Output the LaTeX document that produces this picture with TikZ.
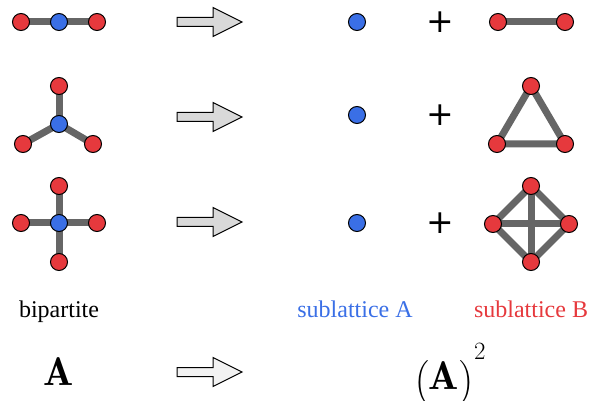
\documentclass[tikz,border=0pt]{standalone}
\usepackage{amsmath}
\usepackage{fontspec}
\newfontfamily\labelfont{Liberation Serif}
\newfontfamily\plusfont{DejaVu Sans}
\usetikzlibrary{backgrounds}
\definecolor{colA}{HTML}{3A6FE6}
\definecolor{colB}{HTML}{E6393D}
\definecolor{bondgray}{HTML}{666666}

\begin{document}
\begin{tikzpicture}[x=1pt, y=-1pt,
  sitea/.style={circle, draw=black, fill=colA, line width=1pt,
                inner sep=0pt, minimum size=17pt},
  siteb/.style={circle, draw=black, fill=colB, line width=1pt,
                inner sep=0pt, minimum size=17pt},
  bond/.style={line width=7pt, bondgray},
  bigarrow/.style={draw=black, line width=1pt, line join=miter},
  lbl/.style={font=\labelfont\fontsize{24}{26}\selectfont, inner sep=0pt,
              anchor=base},
  plus/.style={font=\plusfont\fontsize{33}{35}\selectfont, inner sep=0pt},
  big/.style={font=\fontsize{40}{44}\selectfont, inner sep=0pt, anchor=base}
]
  \useasboundingbox (0,0) rectangle (590,401);

  % left column: the bipartite graphs
  \node[siteb] (p1) at (21,22)  {};
  \node[sitea] (p0) at (59,22)  {};
  \node[siteb] (p2) at (97,22)  {};

  \node[sitea] (t0) at (59,124) {};
  \node[siteb] (t1) at (59,86)  {};
  \node[siteb] (t2) at (23,144) {};
  \node[siteb] (t3) at (93,144) {};

  \node[sitea] (s0) at (59,223) {};
  \node[siteb] (s1) at (59,186) {};
  \node[siteb] (s2) at (21,223) {};
  \node[siteb] (s3) at (97,223) {};
  \node[siteb] (s4) at (59,262) {};

  % middle: sublattice A sites and plus signs
  \node[sitea] (m1) at (357,22)  {};
  \node[sitea] (m2) at (357,115) {};
  \node[sitea] (m3) at (357,223) {};
  \node[plus] (q1) at (440,22)  {+};
  \node[plus] (q2) at (440,115) {+};
  \node[plus] (q3) at (440,223) {+};

  % right column: sublattice B graphs
  \node[siteb] (b1) at (498,22)  {};
  \node[siteb] (b2) at (565,22)  {};

  \node[siteb] (c1) at (531,86)  {};
  \node[siteb] (c2) at (497,144) {};
  \node[siteb] (c3) at (565,144) {};

  \node[siteb] (d1) at (531,186) {};
  \node[siteb] (d2) at (493,224) {};
  \node[siteb] (d3) at (569,224) {};
  \node[siteb] (d4) at (531,262) {};

  \begin{scope}[on background layer]
    \draw[bond] (p1.center) -- (p2.center);
    \foreach \i in {1,2,3}
      \draw[bond] (t0.center) -- (t\i.center);
    \draw[bond] (s1.center) -- (s4.center);
    \draw[bond] (s2.center) -- (s3.center);
    \draw[bond] (b1.center) -- (b2.center);
    \draw[bond] (c1.center) -- (c2.center) -- (c3.center) -- cycle;
    \foreach \i in {1,...,4} {
      \foreach \j in {\i,...,4} {
        \ifnum\i<\j
          \draw[bond] (d\i.center) -- (d\j.center);
        \fi
      }
    }
  \end{scope}

  % block arrows
  \foreach \y/\c in {22/gray!30, 117/gray!30, 222/gray!30, 372/gray!10}
    \draw[bigarrow, fill=\c] (177,\y-4.5) -- (213,\y-4.5) -- (213,\y-14.5)
      -- (242,\y) -- (213,\y+14.5) -- (213,\y+4.5) -- (177,\y+4.5) -- cycle;

  % labels
  \node[lbl] (bip) at (59,317) {bipartite};
  \node[lbl, text=colA] (subA) at (355,317) {sublattice A};
  \node[lbl, text=colB] (subB) at (531,317) {sublattice B};

  \node[big] (mA) at (58.5,385) {$\mathbf{A}$};
  \node[big] (mA2) at (450,389)
    {$\left(\vphantom{\big(}\mathbf{A}\right)^{\raisebox{10pt}{$\scriptstyle 2$}}$};
\end{tikzpicture}
\end{document}
